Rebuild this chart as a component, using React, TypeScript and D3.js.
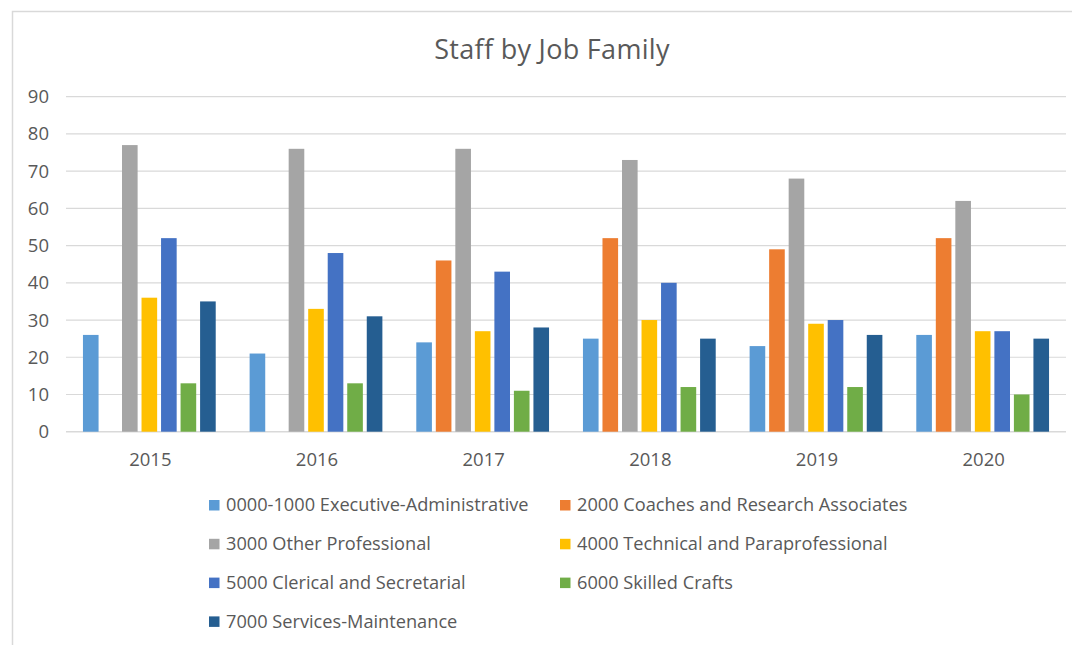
import React from "react";
import * as d3 from "d3";

const years = ["2015", "2016", "2017", "2018", "2019", "2020"];
const seriesNames = [
  "0000-1000 Executive-Administrative",
  "2000 Coaches and Research Associates",
  "3000 Other Professional",
  "4000 Technical and Paraprofessional",
  "5000 Clerical and Secretarial",
  "6000 Skilled Crafts",
  "7000 Services-Maintenance",
];
const seriesColors = ["#5B9BD5", "#ED7D31", "#A5A5A5", "#FFC000", "#4472C4", "#70AD47", "#255E91"];

const execAdmin = [26, 21, 24, 25, 23, 26];
const coaches: (number | null)[] = [null, null, 46, 52, 49, 52];
const otherProf = [77, 76, 76, 73, 68, 62];
const technical = [36, 33, 27, 30, 29, 27];
const clerical = [52, 48, 43, 40, 30, 27];
const skilled = [13, 13, 11, 12, 12, 10];
const services = [35, 31, 28, 25, 26, 25];
const seriesValues = [execAdmin, coaches, otherProf, technical, clerical, skilled, services];

const yTicks = [0, 10, 20, 30, 40, 50, 60, 70, 80, 90];

const FONT = "'Open Sans', sans-serif";
const TXT = "#595959";

export default function App() {
  const W = 1072, H = 645;
  const left = 66, right = 1066, top = 96.7, bottom = 431.7;
  const x = d3.scaleBand<string>().domain(years).range([left, right]).padding(0);
  const bw = x.bandwidth();
  const inner = d3.scaleBand<number>().domain(d3.range(7)).range([15, bw - 15]).padding(0);
  const y = d3.scaleLinear().domain([0, 90]).range([bottom, top]);
  const barW = inner.bandwidth() * 0.8;

  const legendCols = [209, 560];
  const legendRowY = (r: number) => 505 + r * 38.8;

  return (
    <svg width={W} height={H} style={{ position: "absolute", left: 0, top: 0, background: "#fff" }}>
      <rect x={12.5} y={11.5} width={1200} height={800} fill="#fff" stroke="#D9D9D9" strokeWidth={1.5} />
      <text x={552} y={58.5} textAnchor="middle" fontFamily={FONT} fontSize={27} fill={TXT} letterSpacing={0.3}>
        Staff by Job Family
      </text>
      {yTicks.map((t) => (
        <g key={t}>
          <line x1={left} x2={right} y1={y(t)} y2={y(t)} stroke="#D9D9D9" strokeWidth={t === 0 ? 1.5 : 1.2} />
          <text x={49} y={y(t)} dy="0.35em" textAnchor="end" fontFamily={FONT} fontSize={18.5} fill={TXT}>
            {t}
          </text>
        </g>
      ))}
      {years.map((yr, i) => (
        <g key={yr}>
          {seriesValues.map((vals, s) => {
            const v = vals[i];
            if (v === null || v === undefined) return null;
            const cx = (x(yr) as number) + (inner(s) as number) + inner.bandwidth() / 2;
            return (
              <rect
                key={s}
                x={cx - barW / 2}
                y={y(v)}
                width={barW}
                height={bottom - y(v)}
                fill={seriesColors[s]}
              />
            );
          })}
          <text
            x={(x(yr) as number) + bw / 2 + 1}
            y={465.5}
            textAnchor="middle"
            fontFamily={FONT}
            fontSize={18.5}
            fill={TXT}
          >
            {yr}
          </text>
        </g>
      ))}
      {seriesNames.map((name, s) => {
        const col = s % 2;
        const row = Math.floor(s / 2);
        const lx = legendCols[col];
        const ly = legendRowY(row);
        return (
          <g key={name}>
            <rect x={lx} y={ly - 5} width={10.5} height={10.5} fill={seriesColors[s]} />
            <text x={lx + 17} y={ly} dy="0.35em" fontFamily={FONT} fontSize={18.2} fill={TXT}>
              {name}
            </text>
          </g>
        );
      })}
    </svg>
  );
}
